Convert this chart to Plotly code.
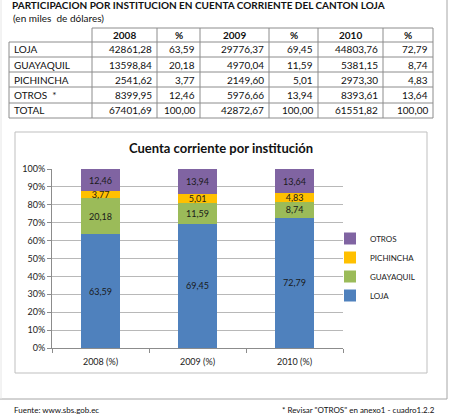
import plotly.graph_objects as go

W, H = 451, 419

def px(x):
    return x / W

def py(y):
    return 1 - y / H

# ---------------- data ----------------
years = ["2008", "2009", "2010"]
categories = ["2008 (%)", "2009 (%)", "2010 (%)"]
institutions = ["LOJA", "GUAYAQUIL", "PICHINCHA", "OTROS  *"]
legend_names = ["LOJA", "GUAYAQUIL", "PICHINCHA", "OTROS"]

amount_2008 = [42861.28, 13598.84, 2541.62, 8399.95]
amount_2009 = [29776.37, 4970.04, 2149.60, 5976.66]
amount_2010 = [44803.76, 5381.15, 2973.30, 8393.61]
total_amounts = [67401.69, 42872.67, 61551.82]

pct_2008 = [63.59, 20.18, 3.77, 12.46]
pct_2009 = [69.45, 11.59, 5.01, 13.94]
pct_2010 = [72.79, 8.74, 4.83, 13.64]
total_pct = [100.00, 100.00, 100.00]

colors = ["#4F81BD", "#9BBB59", "#FFC000", "#8064A2"]
y_ticks = [0, 10, 20, 30, 40, 50, 60, 70, 80, 90, 100]


def fmt(v):
    return f"{v:.2f}".replace(".", ",")


FONT = "Lato"
TXT = "#111111"
fig = go.Figure()

# ---------------- table (layout grid + text from the data lists) ----------------
row_edges = [28, 42, 57, 72, 87, 103, 118]
col_edges = [9, 92, 157, 200, 269, 318, 383, 433]
line_gray = "#8c8c8c"

table_cols = [
    institutions + ["TOTAL"],
    [fmt(v) for v in amount_2008 + [total_amounts[0]]],
    [fmt(v) for v in pct_2008 + [total_pct[0]]],
    [fmt(v) for v in amount_2009 + [total_amounts[1]]],
    [fmt(v) for v in pct_2009 + [total_pct[1]]],
    [fmt(v) for v in amount_2010 + [total_amounts[2]]],
    [fmt(v) for v in pct_2010 + [total_pct[2]]],
]
headers = ["", years[0], "%", years[1], "%", years[2], "%"]

# grid lines
for i, yv in enumerate(row_edges):
    x_start = col_edges[1] if i == 0 else col_edges[0]
    fig.add_shape(type="line", xref="paper", yref="paper",
                  x0=px(x_start), x1=px(col_edges[-1]), y0=py(yv), y1=py(yv),
                  line=dict(color=line_gray, width=1))
for j, xv in enumerate(col_edges):
    y_start = row_edges[1] if j == 0 else row_edges[0]
    fig.add_shape(type="line", xref="paper", yref="paper",
                  x0=px(xv), x1=px(xv), y0=py(y_start), y1=py(row_edges[-1]),
                  line=dict(color=line_gray, width=1))

# header text
for j, h in enumerate(headers):
    if not h:
        continue
    xc = (col_edges[j] + col_edges[j + 1]) / 2
    yc = (row_edges[0] + row_edges[1]) / 2
    fig.add_annotation(xref="paper", yref="paper", x=px(xc), y=py(yc),
                       xanchor="center", yanchor="middle", showarrow=False,
                       text="<b>" + h + "</b>",
                       font=dict(family=FONT, size=10, color=TXT))
# body text
for j, col in enumerate(table_cols):
    for i, val in enumerate(col):
        yc = (row_edges[i + 1] + row_edges[i + 2]) / 2
        if j == 0:
            xa, anchor = col_edges[0] + 3, "left"
        else:
            xa, anchor = col_edges[j + 1] - 3, "right"
        fig.add_annotation(xref="paper", yref="paper", x=px(xa), y=py(yc),
                           xanchor=anchor, yanchor="middle", showarrow=False,
                           text=val, font=dict(family=FONT, size=10, color=TXT))

# ---------------- stacked bars ----------------
pct_by_inst = [list(x) for x in zip(pct_2008, pct_2009, pct_2010)]
for name, vals, col in zip(legend_names, pct_by_inst, colors):
    fig.add_trace(go.Bar(
        x=categories,
        y=vals,
        name=name,
        marker=dict(color=col, line=dict(width=0)),
        text=[fmt(v) for v in vals],
        textposition="inside",
        insidetextanchor="middle",
        textangle=0,
        constraintext="none",
        textfont=dict(family=FONT, size=9, color="#1a1a1a"),
        hoverinfo="skip",
    ))

fig.update_layout(
    width=W, height=H,
    margin=dict(l=0, r=0, t=0, b=0, autoexpand=False),
    paper_bgcolor="white",
    plot_bgcolor="white",
    barmode="stack",
    bargap=0.6,
    font=dict(family=FONT, size=9, color="#333333"),
    xaxis=dict(
        domain=[px(52), px(343)],
        type="category",
        showline=True, linecolor="#8c8c8c", linewidth=1,
        ticks="outside", tickson="boundaries", ticklen=4, tickcolor="#8c8c8c",
        ticklabelstandoff=5,
        tickfont=dict(family=FONT, size=9, color="#222222"),
        showgrid=False,
        fixedrange=True,
        automargin=False,
    ),
    yaxis=dict(
        domain=[py(348), py(169)],
        range=[0, 100],
        tickmode="array",
        tickvals=y_ticks,
        ticktext=[f"{v}%" for v in y_ticks],
        showline=True, linecolor="#8c8c8c", linewidth=1,
        ticks="outside", ticklen=4, tickcolor="#8c8c8c",
        showgrid=True, gridcolor="#b8b8b8", gridwidth=1,
        zeroline=False,
        tickfont=dict(family=FONT, size=9, color="#222222"),
        fixedrange=True,
        automargin=False,
    ),
    legend=dict(
        x=px(330), y=py(224), xanchor="left", yanchor="top",
        traceorder="reversed",
        font=dict(family=FONT, size=8, color="#222222"),
        bgcolor="rgba(0,0,0,0)",
        itemwidth=30,
    ),
    showlegend=True,
)

# ---------------- frames ----------------
fig.add_shape(type="rect", xref="paper", yref="paper",
              x0=px(15), x1=px(427), y0=py(373), y1=py(132),
              line=dict(color="#bfbfbf", width=1), layer="below")
fig.add_shape(type="line", xref="paper", yref="paper",
              x0=px(447), x1=px(447), y0=py(399), y1=py(0),
              line=dict(color="#a6a6a6", width=1))
fig.add_shape(type="line", xref="paper", yref="paper",
              x0=px(0), x1=px(447), y0=py(399), y1=py(399),
              line=dict(color="#a6a6a6", width=1))
fig.add_shape(type="line", xref="paper", yref="paper",
              x0=px(1), x1=px(1), y0=py(399), y1=py(0),
              line=dict(color="#e6e6e6", width=1))

# ---------------- texts ----------------
fig.add_annotation(xref="paper", yref="paper", x=px(10), y=py(5),
                   xanchor="left", yanchor="middle", showarrow=False,
                   text="<b>PARTICIPACION POR INSTITUCION EN CUENTA CORRIENTE DEL CANTON LOJA</b>",
                   font=dict(family=FONT, size=10, color=TXT))
fig.add_annotation(xref="paper", yref="paper", x=px(11), y=py(18),
                   xanchor="left", yanchor="middle", showarrow=False,
                   text="(en miles  de dólares)",
                   font=dict(family=FONT, size=10, color=TXT))
fig.add_annotation(xref="paper", yref="paper", x=px(221), y=py(148),
                   xanchor="center", yanchor="middle", showarrow=False,
                   text="<b>Cuenta corriente por institución</b>",
                   font=dict(family=FONT, size=13, color=TXT))
fig.add_annotation(xref="paper", yref="paper", x=px(12), y=py(410),
                   xanchor="left", yanchor="middle", showarrow=False,
                   text="Fuente: www.sbs.gob.ec",
                   font=dict(family=FONT, size=8, color=TXT))
fig.add_annotation(xref="paper", yref="paper", x=px(437), y=py(410),
                   xanchor="right", yanchor="middle", showarrow=False,
                   text='* Revisar "OTROS" en anexo1 - cuadro1.2.2',
                   font=dict(family=FONT, size=8, color=TXT))

fig.write_html("out.html",
               config={"displayModeBar": False},
               post_script="document.body.style.margin='0';document.body.style.overflow='hidden';")
